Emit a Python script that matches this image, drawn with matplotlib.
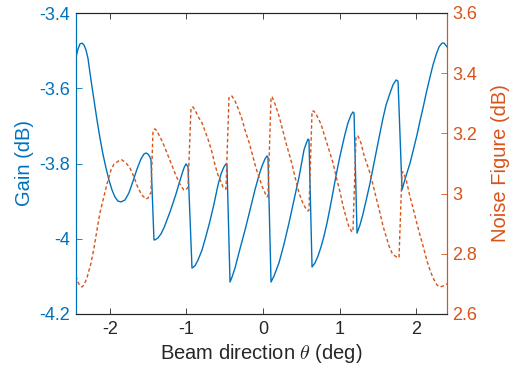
import matplotlib
matplotlib.use("Agg")
import matplotlib.pyplot as plt

plt.rcParams['font.family'] = ['Liberation Sans', 'DejaVu Sans']
plt.rcParams['axes.unicode_minus'] = False
plt.rcParams['mathtext.fontset'] = 'cm'

# Gain (dB) vs beam direction (deg)
gain_x = [-2.444, -2.418, -2.392, -2.366, -2.340, -2.314, -2.288, -2.248, -2.209, -2.170,
          -2.131, -2.092, -2.052, -2.013, -1.974, -1.935, -1.895, -1.856, -1.804, -1.752,
          -1.699, -1.647, -1.595, -1.556, -1.529, -1.503, -1.477, -1.464,
          -1.425, -1.412, -1.373, -1.333, -1.294, -1.255, -1.216, -1.176, -1.137, -1.098,
          -1.059, -1.033, -1.007, -0.980,
          -0.928, -0.889, -0.850, -0.797, -0.745, -0.693, -0.641, -0.588, -0.549, -0.510,
          -0.484, -0.471,
          -0.431, -0.405, -0.366, -0.301, -0.235, -0.170, -0.105, -0.052, -0.013, 0.026,
          0.052, 0.065,
          0.105, 0.144, 0.209, 0.275, 0.340, 0.405, 0.471, 0.510, 0.536, 0.562, 0.588, 0.601,
          0.641, 0.680, 0.719, 0.758, 0.797, 0.837, 0.876, 0.915, 0.954, 0.993, 1.033, 1.072,
          1.111, 1.150, 1.176, 1.190,
          1.229, 1.268, 1.307, 1.346, 1.399, 1.438, 1.477, 1.529, 1.569, 1.608, 1.660, 1.699,
          1.739, 1.765,
          1.817, 1.869, 1.922, 1.961, 2.013, 2.052, 2.092, 2.131, 2.183, 2.222, 2.261, 2.301,
          2.340, 2.366, 2.405]
gain_db = [-3.517, -3.496, -3.482, -3.480, -3.485, -3.498, -3.520, -3.578, -3.631, -3.684,
           -3.732, -3.775, -3.812, -3.844, -3.870, -3.889, -3.900, -3.902, -3.897, -3.878,
           -3.847, -3.815, -3.788, -3.775, -3.772, -3.775, -3.783, -3.791,
           -4.003, -4.003, -3.998, -3.987, -3.971, -3.950, -3.929, -3.905, -3.881, -3.854,
           -3.828, -3.812, -3.801, -3.809,
           -4.078, -4.072, -4.057, -4.030, -3.993, -3.953, -3.908, -3.857, -3.828, -3.809,
           -3.801, -3.804,
           -4.115, -4.102, -4.078, -4.027, -3.977, -3.924, -3.870, -3.831, -3.807, -3.788,
           -3.780, -3.783,
           -4.115, -4.099, -4.064, -4.014, -3.958, -3.897, -3.836, -3.793, -3.764, -3.748,
           -3.735, -3.738,
           -4.075, -4.064, -4.046, -4.022, -3.993, -3.958, -3.918, -3.876, -3.833, -3.793,
           -3.756, -3.722, -3.692, -3.671, -3.663, -3.666,
           -3.985, -3.963, -3.934, -3.900, -3.852, -3.812, -3.772, -3.719, -3.679, -3.645,
           -3.613, -3.591, -3.578, -3.581,
           -3.870, -3.833, -3.799, -3.767, -3.724, -3.687, -3.652, -3.615, -3.570, -3.538,
           -3.512, -3.490, -3.480, -3.480, -3.490]

# Noise figure (dB) vs beam direction (deg)
nf_x = [-2.444, -2.418, -2.392, -2.366, -2.340, -2.301, -2.248, -2.209, -2.170, -2.131,
        -2.078, -2.039, -1.987, -1.948, -1.908, -1.869, -1.843, -1.791, -1.739, -1.686,
        -1.634, -1.582, -1.529, -1.503, -1.477, -1.464,
        -1.438, -1.412, -1.386, -1.346, -1.307, -1.255, -1.203, -1.150, -1.111, -1.072,
        -1.033, -1.007, -0.980,
        -0.941, -0.915, -0.876, -0.837, -0.797, -0.758, -0.719, -0.667, -0.627, -0.588,
        -0.549, -0.523, -0.497, -0.484,
        -0.444, -0.405, -0.366, -0.327, -0.275, -0.235, -0.183, -0.144, -0.092, -0.052,
        -0.013, 0.026, 0.052, 0.065,
        0.105, 0.118, 0.157, 0.209, 0.261, 0.301, 0.353, 0.392, 0.431, 0.471, 0.510, 0.549,
        0.588, 0.601,
        0.641, 0.667, 0.706, 0.758, 0.810, 0.863, 0.915, 0.967, 1.007, 1.046, 1.085, 1.124,
        1.163, 1.176,
        1.216, 1.242, 1.281, 1.320, 1.359, 1.399, 1.438, 1.490, 1.529, 1.569, 1.608, 1.647,
        1.686, 1.725, 1.765, 1.778,
        1.817, 1.830, 1.869, 1.922, 1.961, 2.013, 2.052, 2.092, 2.144, 2.183, 2.222, 2.275,
        2.314, 2.353, 2.405]
nf_db = [2.726, 2.706, 2.693, 2.690, 2.696, 2.720, 2.769, 2.819, 2.879, 2.936,
         2.992, 3.032, 3.078, 3.098, 3.105, 3.112, 3.112, 3.102, 3.085, 3.055,
         3.019, 2.995, 2.982, 2.985, 2.999, 3.002,
         3.208, 3.215, 3.208, 3.188, 3.168, 3.135, 3.102, 3.068, 3.045, 3.025,
         3.012, 3.012, 3.022,
         3.284, 3.288, 3.271, 3.251, 3.235, 3.208, 3.181, 3.138, 3.095, 3.062,
         3.039, 3.022, 3.015, 3.015,
         3.321, 3.324, 3.308, 3.284, 3.248, 3.211, 3.171, 3.135, 3.085, 3.055,
         3.025, 3.002, 2.989, 2.992,
         3.321, 3.321, 3.298, 3.258, 3.208, 3.168, 3.122, 3.085, 3.042, 3.002, 2.975, 2.955,
         2.942, 2.945,
         3.274, 3.274, 3.258, 3.231, 3.188, 3.145, 3.102, 3.045, 3.005, 2.959, 2.922, 2.889,
         2.872, 2.876,
         3.191, 3.191, 3.168, 3.128, 3.098, 3.068, 3.029, 2.975, 2.936, 2.892, 2.859, 2.826,
         2.803, 2.793, 2.786, 2.789,
         3.072, 3.072, 3.048, 2.989, 2.952, 2.899, 2.862, 2.826, 2.776, 2.746, 2.720, 2.696,
         2.690, 2.693, 2.700]

x_ticks = [-2, -1, 0, 1, 2]
gain_ticks = [-4.2, -4.0, -3.8, -3.6, -3.4]
gain_labels = ['-4.2', '-4', '-3.8', '-3.6', '-3.4']
nf_ticks = [2.6, 2.8, 3.0, 3.2, 3.4, 3.6]
nf_labels = ['2.6', '2.8', '3', '3.2', '3.4', '3.6']

blue = '#0072BD'
orange = '#D95319'
dark = '#262626'
fs = 13
lfs = 14.5

fig = plt.figure(figsize=(5.2, 3.65), dpi=100)
ax = fig.add_axes([76/520, 51/365, 371/520, 301/365])
ax2 = ax.twinx()

ax.plot(gain_x, gain_db, color=blue, lw=1.0)
ax2.plot(nf_x, nf_db, color=orange, lw=1.0, linestyle=(0, (2.5, 1.8)))

ax.set_xlim(-2.444, 2.405)
ax.set_ylim(-4.2, -3.4)
ax2.set_ylim(2.6, 3.6)

ax.set_xticks(x_ticks)
ax.set_xticklabels([str(t) for t in x_ticks])
ax.set_yticks(gain_ticks)
ax.set_yticklabels(gain_labels)
ax2.set_yticks(nf_ticks)
ax2.set_yticklabels(nf_labels)

ax.tick_params(axis='x', direction='in', length=4, width=0.6, colors=dark,
               labelsize=fs, top=True, pad=5)
ax.tick_params(axis='y', direction='in', length=4, width=0.6, colors=blue,
               labelsize=fs, pad=4)
ax2.tick_params(axis='y', direction='in', length=4, width=0.6, colors=orange,
                labelsize=fs, pad=4)

for a in (ax, ax2):
    a.spines['top'].set_color(dark)
    a.spines['bottom'].set_color(dark)
    a.spines['left'].set_color(blue)
    a.spines['right'].set_color(orange)
    for s in a.spines.values():
        s.set_linewidth(0.8)

ax.set_xlabel(r'Beam direction $\theta$ (deg)', fontsize=lfs, color=dark, labelpad=3)
ax.set_ylabel('Gain (dB)', fontsize=lfs, color=blue, labelpad=4)
ax2.set_ylabel('Noise Figure (dB)', fontsize=lfs, color=orange, labelpad=10)

fig.savefig('out.png', dpi=100)
